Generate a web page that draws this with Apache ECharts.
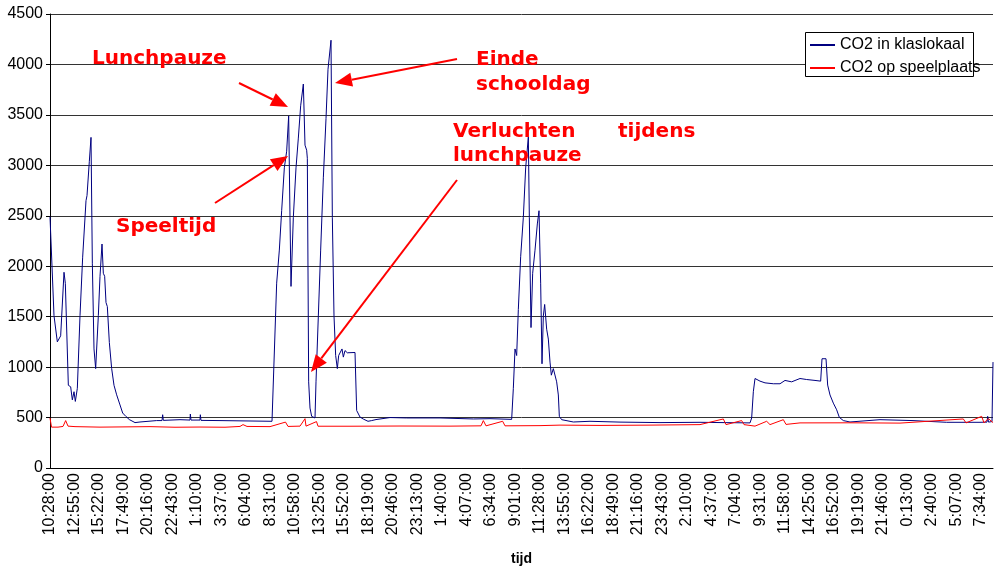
<!DOCTYPE html>
<html>
<head>
<meta charset="utf-8">
<script src="https://cdn.jsdelivr.net/npm/echarts@6/dist/echarts.min.js"></script>
<style>
  html, body { margin: 0; padding: 0; background: #fff; }
  #chart { width: 994px; height: 571px; }
</style>
</head>
<body>
<div id="chart"></div>
<script>
// Time axis: minutes since the first measurement (10:28:00), one label every 147 minutes
const tickStep = 147;
const tickLabels = [
  '10:28:00', '12:55:00', '15:22:00', '17:49:00', '20:16:00', '22:43:00', '1:10:00',
  '3:37:00', '6:04:00', '8:31:00', '10:58:00', '13:25:00', '15:52:00', '18:19:00',
  '20:46:00', '23:13:00', '1:40:00', '4:07:00', '6:34:00', '9:01:00', '11:28:00',
  '13:55:00', '16:22:00', '18:49:00', '21:16:00', '23:43:00', '2:10:00', '4:37:00',
  '7:04:00', '9:31:00', '11:58:00', '14:25:00', '16:52:00', '19:19:00', '21:46:00',
  '0:13:00', '2:40:00', '5:07:00', '7:34:00'
];
const lastMinute = 5658;

// CO2 in klaslokaal (ppm)
const klasMinutes = [
  0, 24, 44, 64, 84, 92, 110, 124, 134, 144, 152, 164, 180, 196, 216, 222, 236, 246,
  254, 264, 274, 290, 300, 312, 320, 328, 336, 344, 356, 370, 384, 400, 420, 436,
  456, 476, 510, 540, 640, 672, 676, 680, 780, 840, 842, 846, 900, 902, 906, 1020,
  1200, 1332, 1336, 1360, 1376, 1390, 1406, 1420, 1432, 1440, 1446, 1460, 1476, 1490,
  1504, 1520, 1530, 1540, 1544, 1552, 1560, 1570, 1590, 1596, 1610, 1624, 1640, 1656,
  1668, 1686, 1694, 1704, 1714, 1724, 1732, 1744, 1752, 1760, 1770, 1784, 1830, 1840,
  1860, 1880, 1908, 1930, 1956, 2040, 2140, 2340, 2540, 2640, 2770, 2780, 2790, 2796,
  2800, 2810, 2824, 2840, 2854, 2870, 2876, 2886, 2896, 2910, 2924, 2934, 2944, 2952,
  2960, 2968, 2980, 2990, 3000, 3008, 3020, 3030, 3040, 3050, 3056, 3070, 3140, 3240,
  3420, 3660, 3900, 4038, 4200, 4210, 4220, 4230, 4240, 4260, 4290, 4340, 4380, 4410,
  4450, 4500, 4540, 4590, 4624, 4632, 4644, 4656, 4666, 4680, 4700, 4720, 4736, 4760,
  4800, 4980, 5178, 5380, 5580, 5622, 5626, 5631, 5652, 5658
];
const klasPpm = [
  2490, 1510, 1250, 1310, 1940, 1830, 820, 805, 675, 756, 660, 790, 1510, 2090, 2650, 2700, 3040, 3277,
  2030, 1180, 985, 1510, 1900, 2220, 1930, 1900, 1640, 1600, 1245, 985, 820, 725, 625, 545,
  510, 480, 450, 456, 470, 470, 528, 472, 479, 475, 535, 475, 475, 528, 472, 470,
  466, 463, 470, 1832, 2160, 2550, 2975, 3140, 3490, 2485, 1800, 2485, 2975, 3270,
  3590, 3806, 3200, 3150, 3070, 854, 594, 512, 496, 854, 1507, 2160, 2876, 3463,
  3952, 4240, 2485, 1507, 1115, 985, 1115, 1115, 1180, 1099, 1164, 1142, 1145, 570,
  505, 485, 463, 470, 480, 500, 496, 496, 486, 489, 482, 790, 1180, 1196,
  1115, 1572, 2094, 2485, 2974, 3280, 2485, 1392, 1930, 2159, 2419, 2550, 1832, 1033,
  1507, 1621, 1376, 1278, 1050, 920, 985, 1001, 854, 724, 512, 479, 456, 463,
  455, 450, 453, 450, 447, 496, 756, 887, 893, 861, 844, 835, 835, 868,
  854, 887, 877, 868, 861, 1083, 1099, 1083, 822, 724, 643, 577, 502, 470,
  456, 479, 470, 453, 453, 455, 512, 455, 460, 1050
];

// CO2 op speelplaats (ppm)
const speelMinutes = [
  0, 9, 48, 78, 94, 108, 150, 300, 480, 600, 750, 900, 1050, 1140, 1158, 1182,
  1320, 1413, 1428, 1500, 1530, 1536, 1599, 1608, 1800, 2100, 2400, 2586, 2600, 2616,
  2716, 2730, 2940, 3060, 3300, 3600, 3900, 4040, 4056, 4150, 4164, 4230, 4300, 4320,
  4400, 4416, 4500, 4800, 5100, 5480, 5496, 5590, 5604, 5630, 5658
];
const speelPpm = [
  496, 405, 405, 412, 470, 415, 410, 405, 408, 410, 404, 406, 404, 412, 430, 412,
  410, 455, 412, 415, 489, 415, 460, 414, 414, 416, 415, 418, 470, 418,
  463, 418, 420, 425, 422, 425, 430, 486, 430, 470, 430, 415, 463, 430,
  479, 432, 447, 448, 445, 486, 447, 512, 447, 490, 450
];

const seriesNames = ['CO2 in klaslokaal', 'CO2 op speelplaats'];

const zip = (xs, ys) => xs.map((x, i) => [x, ys[i]]);

// Red call-outs: [text, left x, middle y]
const notes = [
  ['Lunchpauze', 92, 59],
  ['Einde', 476, 60],
  ['schooldag', 476, 85],
  ['Verluchten', 453, 132],
  ['tijdens', 618, 132],
  ['lunchpauze', 453, 156],
  ['Speeltijd', 116, 227]
];
// Arrows: [fromX, fromY, toX, toY]
const arrows = [
  [239, 83, 288, 107],
  [215, 203, 288, 156],
  [457, 59, 335, 83],
  [457, 180, 311, 372]
];

function arrowGraphics(a) {
  const [x1, y1, x2, y2] = a;
  const ang = Math.atan2(y2 - y1, x2 - x1);
  const len = 17, half = 7;
  const bx = x2 - len * Math.cos(ang), by = y2 - len * Math.sin(ang);
  const px = -Math.sin(ang) * half, py = Math.cos(ang) * half;
  return [
    { type: 'line', z: 10, shape: { x1, y1, x2: bx, y2: by },
      style: { stroke: '#ff0000', lineWidth: 2 } },
    { type: 'polygon', z: 10, shape: { points: [[x2, y2], [bx + px, by + py], [bx - px, by - py]] },
      style: { fill: '#ff0000' } }
  ];
}

const noteFont = 'bold 20px "DejaVu Sans", Verdana, sans-serif';
const graphics = [
  // legend frame
  { type: 'rect', z: 3, shape: { x: 805.5, y: 32.5, width: 168, height: 44 },
    style: { fill: '#fff', stroke: '#000', lineWidth: 1 } }
];
notes.forEach(n => graphics.push({
  type: 'text', z: 10,
  style: { text: n[0], x: n[1], y: n[2], font: noteFont, fill: '#ff0000',
           textAlign: 'left', textVerticalAlign: 'middle', verticalAlign: 'middle' }
}));
arrows.forEach(a => graphics.push(...arrowGraphics(a)));

const chart = echarts.init(document.getElementById('chart'), null, { renderer: 'canvas' });
chart.setOption({
  animation: false,
  backgroundColor: '#fff',
  textStyle: { fontFamily: '"Liberation Sans", Arial, sans-serif' },
  grid: { left: 50, right: 1, top: 14, bottom: 97, containLabel: false },
  legend: {
    data: seriesNames,
    orient: 'vertical',
    left: 810, top: 37,
    padding: 0,
    itemGap: 7,
    itemWidth: 25, itemHeight: 2,
    icon: 'rect',
    z: 6,
    textStyle: { fontSize: 16, color: '#000', lineHeight: 16,
                 fontFamily: '"Liberation Sans", Arial, sans-serif' }
  },
  xAxis: {
    type: 'value',
    min: 0, max: lastMinute, interval: tickStep,
    name: 'tijd', nameLocation: 'middle', nameGap: 84,
    nameTextStyle: { fontSize: 14, fontWeight: 'bold', color: '#000' },
    axisLine: { show: true, onZero: false, lineStyle: { color: '#000', width: 1 } },
    axisTick: { show: false },
    splitLine: { show: false },
    axisLabel: {
      rotate: 90, margin: 5, fontSize: 16, color: '#000',
      showMaxLabel: false,
      formatter: v => {
        const i = Math.round(v / tickStep);
        return Math.abs(v - i * tickStep) < 0.01 && tickLabels[i] ? tickLabels[i] : '';
      }
    }
  },
  yAxis: {
    type: 'value',
    min: 0, max: 4500, interval: 500,
    axisLine: { show: true, lineStyle: { color: '#000', width: 1 } },
    axisTick: { show: true, length: 4, inside: false, lineStyle: { color: '#000' } },
    axisLabel: { fontSize: 16, color: '#000', margin: 7, formatter: v => String(v) },
    splitLine: { show: true, lineStyle: { color: '#333', width: 1 } }
  },
  series: [
    {
      name: seriesNames[0], type: 'line', data: zip(klasMinutes, klasPpm),
      showSymbol: false, symbol: 'none', z: 2,
      color: '#000080', lineStyle: { color: '#000080', width: 1 }
    },
    {
      name: seriesNames[1], type: 'line', data: zip(speelMinutes, speelPpm),
      showSymbol: false, symbol: 'none', z: 2,
      color: '#ff0000', lineStyle: { color: '#ff0000', width: 1 }
    }
  ],
  graphic: graphics
});
</script>
</body>
</html>
